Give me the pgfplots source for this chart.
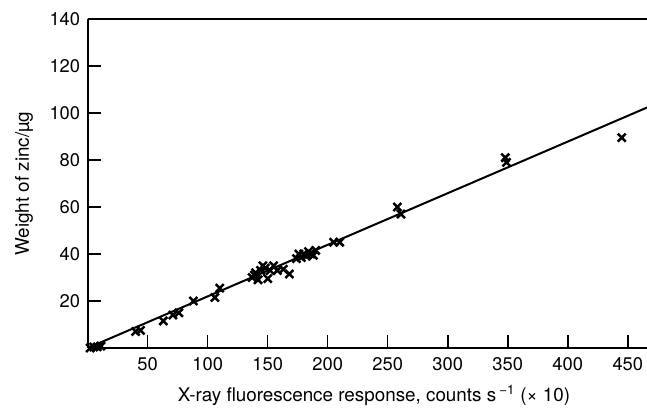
\documentclass[border=0pt]{standalone}
\usepackage{pgfplots}
\pgfplotsset{compat=1.18}
\usepackage{fontspec}
\setmainfont{TeX Gyre Heros}
\begin{document}
\begin{tikzpicture}
\begin{axis}[
  scale only axis,
  width=335.6pt, height=197.4pt,
  xmin=0, xmax=466, ymin=0, ymax=140,
  axis x line=box, axis y line=left,
  axis line style={-, line width=1.2pt},
  xtick={50,100,...,450}, ytick={20,40,...,140},
  xtick pos=bottom, ytick pos=left,
  tick align=inside,
  major tick length=8pt,
  tick style={line width=0.9pt, black},
  tick label style={font=\fontsize{11}{13}\selectfont},
  /pgf/number format/assume math mode=true,
  xticklabel style={yshift=-2pt},
  yticklabel style={xshift=-1pt},
  xlabel={X-ray fluorescence response, counts s\,\textsuperscript{−1} (× 10)},
  ylabel={Weight of zinc/µg},
  label style={font=\fontsize{11.3}{13}\selectfont},
  xlabel style={yshift=-2pt, xshift=4pt},
  ylabel style={yshift=3pt},
  clip=true,
]
\addplot[black, line width=1.2pt, no marks] coordinates {(0,0) (470,103.2)};
\addplot[only marks, mark=x, mark size=3.4pt, black, line width=1.5pt] coordinates {
(2,0) (5,0.4) (8,0.5) (11,0.8)
(40,7) (44,7.5)
(63,11.5) (71,14) (76,15) (88,20)
(106,21.5) (110,25.5)
(137,30) (139,31) (140,32) (142,29) (144,33) (146,35) (148,34) (150,29.5) (152,33) (155,35) (158,33) (163,33.5) (168,31.5)
(174,38) (176,40) (178,38.5) (180,40) (182,39) (184,41) (186,40) (188,39.5) (190,41.5)
(205,45) (210,45)
(258,60) (261,57)
(348,81) (349,79)
(445,89.5) (467,104)
};
\end{axis}
\pgfresetboundingbox
\path (current axis.south west) ++(-52.6pt,-36.6pt) coordinate (bl);
\path (current axis.north east) ++(0pt,11.4pt) coordinate (tr);
\useasboundingbox (bl) rectangle (tr);
\end{tikzpicture}
\end{document}
